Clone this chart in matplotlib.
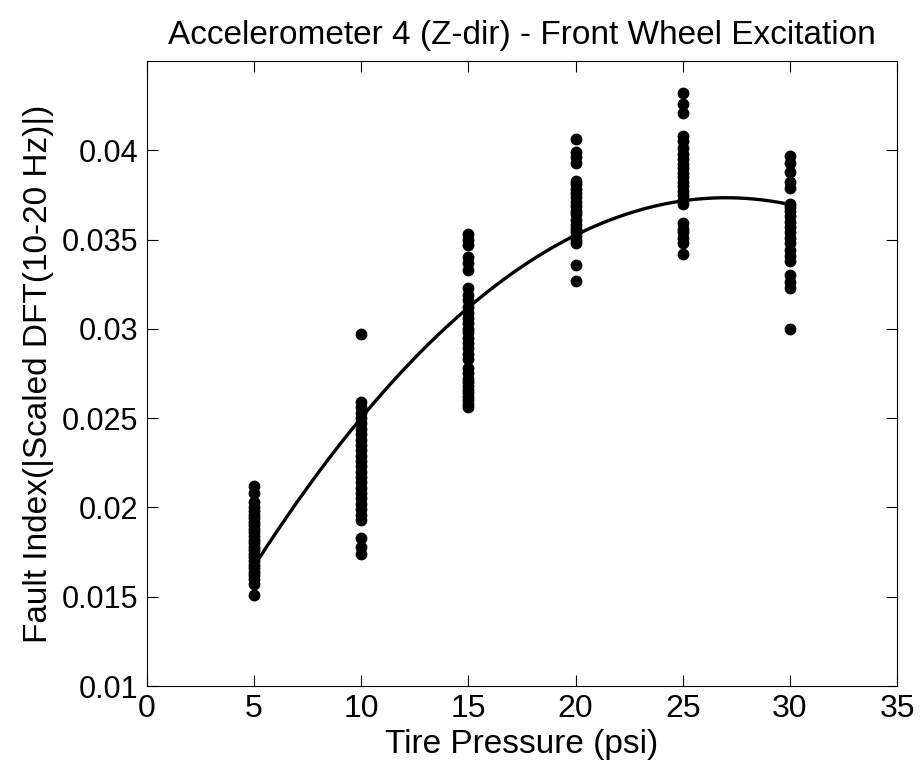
import numpy as np
import matplotlib.pyplot as plt

plt.rcParams["font.family"] = ["Liberation Sans", "DejaVu Sans"]

pressures = [5, 10, 15, 20, 25, 30]
fi_5 = [0.0151, 0.0157, 0.0160, 0.0162, 0.0164, 0.0166, 0.0168, 0.0170, 0.0172,
        0.0174, 0.0176, 0.0178, 0.0180, 0.0182, 0.0184, 0.0186, 0.0188, 0.0190,
        0.0192, 0.0194, 0.0196, 0.0198, 0.0200, 0.0203, 0.0208, 0.0212]
fi_10 = [0.0174, 0.0178, 0.0183, 0.0193, 0.0196, 0.0199, 0.0202, 0.0205, 0.0208,
         0.0211, 0.0214, 0.0217, 0.0220, 0.0223, 0.0226, 0.0229, 0.0232, 0.0235,
         0.0238, 0.0241, 0.0244, 0.0247, 0.0250, 0.0253, 0.0256, 0.0259, 0.0297]
fi_15 = [0.0256, 0.0258, 0.0260, 0.0262, 0.0264, 0.0266, 0.0268, 0.0270, 0.0272,
         0.0275, 0.0278, 0.0283, 0.0286, 0.0289, 0.0292, 0.0295, 0.0298, 0.0300,
         0.0303, 0.0306, 0.0309, 0.0312, 0.0316, 0.0319, 0.0323, 0.0333, 0.0337,
         0.0340, 0.0347, 0.0350, 0.0353]
fi_20 = [0.0327, 0.0336, 0.0348, 0.0350, 0.0352, 0.0354, 0.0356, 0.0358, 0.0361,
         0.0364, 0.0366, 0.0369, 0.0371, 0.0374, 0.0376, 0.0378, 0.0381, 0.0383,
         0.0393, 0.0396, 0.0399, 0.0406]
fi_25 = [0.0342, 0.0348, 0.0351, 0.0354, 0.0356, 0.0359, 0.0370, 0.0372, 0.0375,
         0.0377, 0.0380, 0.0382, 0.0385, 0.0387, 0.0390, 0.0392, 0.0395, 0.0398,
         0.0401, 0.0405, 0.0408, 0.0421, 0.0426, 0.0432]
fi_30 = [0.0300, 0.0323, 0.0326, 0.0330, 0.0338, 0.0341, 0.0344, 0.0348, 0.0351,
         0.0354, 0.0357, 0.0360, 0.0363, 0.0366, 0.0368, 0.0370, 0.0379, 0.0382,
         0.0388, 0.0393, 0.0397]
# quadratic trend line values read at each pressure
trend = [0.0167, 0.0250, 0.0313, 0.0352, 0.0371, 0.0370]
ytick_labels = ["0.01", "0.015", "0.02", "0.025", "0.03", "0.035", "0.04"]

fig = plt.figure(figsize=(9.24, 7.67), dpi=100)
ax = fig.add_axes([0.159, 0.1056, 0.812, 0.815])

for p, vals in zip(pressures, [fi_5, fi_10, fi_15, fi_20, fi_25, fi_30]):
    ax.scatter([p] * len(vals), vals, s=56, color="black", zorder=3)

coef = np.polyfit(pressures, trend, 2)  # smooth 2nd order trend
xx = np.linspace(pressures[0], pressures[-1], 200)
ax.plot(xx, np.polyval(coef, xx), color="black", lw=2.4, zorder=4)

ax.set_xlim(0, 35)
ax.set_ylim(0.01, 0.045)
ax.set_xticks(np.arange(0, 36, 5))
ax.set_yticks([float(t) for t in ytick_labels])
ax.set_yticklabels(ytick_labels)
ax.tick_params(direction="in", top=True, right=True, length=8)
ax.tick_params(axis="x", labelsize=23, pad=6)
ax.tick_params(axis="y", labelsize=22, pad=6)
ax.set_xlabel("Tire Pressure (psi)", fontsize=24, labelpad=3)
ax.set_ylabel("Fault Index(|Scaled DFT(10-20 Hz)|)", fontsize=24, labelpad=6)
ax.set_title("Accelerometer 4 (Z-dir) - Front Wheel Excitation", fontsize=24, pad=12)

fig.savefig("out.png", dpi=100)
